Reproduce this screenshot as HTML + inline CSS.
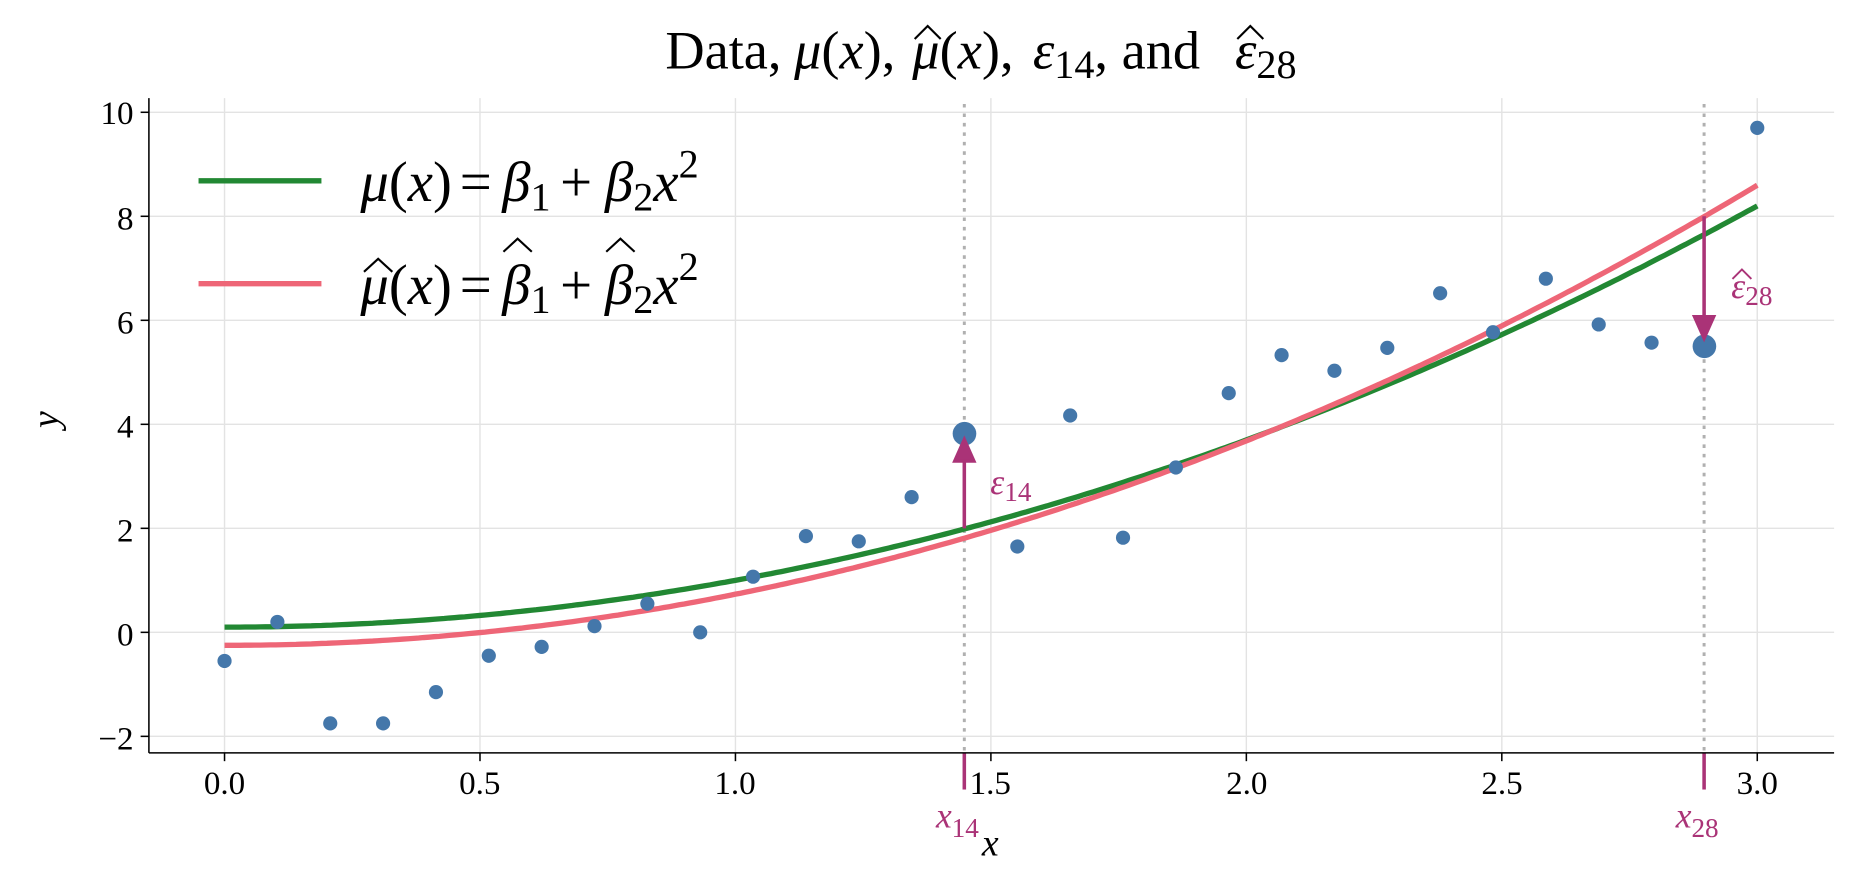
<!DOCTYPE html>
<html><head><meta charset="utf-8"><style>
body{margin:0;background:#fff;overflow:hidden}
svg{display:block;font-family:"Liberation Serif",serif}
</style></head><body>
<svg id="s" width="1853" height="890" viewBox="0 0 1568 753" preserveAspectRatio="none" xmlns="http://www.w3.org/2000/svg">
<g id="grid" stroke="#e3e3e3" stroke-width="1.2"></g>
<line x1="816" y1="88" x2="816" y2="637" stroke="#b0b0b0" stroke-width="2.5" stroke-dasharray="3,5"/>
<line x1="1442" y1="88" x2="1442" y2="637" stroke="#b0b0b0" stroke-width="2.5" stroke-dasharray="3,5"/>
<path id="g" fill="none" stroke="#228833" stroke-width="4.5"/>
<path id="r" fill="none" stroke="#ee6677" stroke-width="4.5"/>
<g id="pts" fill="#4477aa"></g>
<g stroke="#aa3377" stroke-width="3" fill="#aa3377">
<line x1="816" y1="447" x2="816" y2="385"/>
<polygon points="808,390 824,390 816,372"/>
<line x1="1442" y1="183" x2="1442" y2="272"/>
<polygon points="1434,268 1450,268 1442,286"/>
<line x1="816" y1="637" x2="816" y2="668"/>
<line x1="1442" y1="637" x2="1442" y2="668"/>
</g>
<g fill="#aa3377" font-style="italic" font-size="30">
<text x="838" y="418">ε<tspan font-style="normal" font-size="23" dy="6">14</tspan></text>
<text x="1465" y="252">ε<tspan font-style="normal" font-size="23" dy="6">28</tspan></text>
<text x="792" y="700">x<tspan font-style="normal" font-size="23" dy="8">14</tspan></text>
<text x="1418" y="700">x<tspan font-style="normal" font-size="23" dy="8">28</tspan></text>
</g>
<path d="M1466,236 L1474,228 L1482,236" fill="none" stroke="#aa3377" stroke-width="1.6"/>
<line x1="126" y1="83" x2="126" y2="637" stroke="#000" stroke-width="1.3"/>
<line x1="126" y1="637" x2="1552" y2="637" stroke="#000" stroke-width="1.3"/>
<g id="ticks" stroke="#000" stroke-width="1.3"></g>
<g font-size="28" text-anchor="end">
<text x="113" y="105">10</text><text x="113" y="194">8</text><text x="113" y="282">6</text>
<text x="113" y="370">4</text><text x="113" y="458">2</text><text x="113" y="546">0</text><text x="113" y="634">−2</text>
</g>
<g font-size="28" text-anchor="middle">
<text x="190" y="672">0.0</text><text x="406" y="672">0.5</text><text x="622" y="672">1.0</text>
<text x="838" y="672">1.5</text><text x="1055" y="672">2.0</text><text x="1271" y="672">2.5</text><text x="1487" y="672">3.0</text>
</g>
<text x="838" y="724" font-size="32" font-style="italic" text-anchor="middle">x</text>
<text x="42" y="362" font-size="32" font-style="italic" text-anchor="middle" transform="rotate(-90 42 355)">y</text>
<text x="563" y="58" font-size="46">Data, <tspan x="672" font-style="italic">μ</tspan>(<tspan font-style="italic">x</tspan>), <tspan x="772" font-style="italic">μ</tspan>(<tspan font-style="italic">x</tspan>), <tspan x="874" font-style="italic">ε</tspan><tspan font-size="34" dy="8">14</tspan><tspan dy="-8">, and </tspan><tspan x="1045" font-style="italic">ε</tspan><tspan font-size="34" dy="8">28</tspan></text>
<g fill="none" stroke="#000" stroke-width="1.8">
<path d="M774,33 L785,22 L796,33"/>
<path d="M1047,33 L1058,22 L1069,33"/>
</g>
<line x1="168" y1="153" x2="272" y2="153" stroke="#228833" stroke-width="4.5"/>
<line x1="168" y1="240" x2="272" y2="240" stroke="#ee6677" stroke-width="4.5"/>
<g font-size="48">
<text x="305" y="170"><tspan font-style="italic">μ</tspan>(<tspan font-style="italic">x</tspan>)<tspan x="389">=</tspan><tspan x="425" font-style="italic">β</tspan><tspan font-size="34" dy="8">1</tspan><tspan x="474" dy="-8">+</tspan><tspan x="512" font-style="italic">β</tspan><tspan font-size="34" dy="8">2</tspan><tspan font-style="italic" dy="-8">x</tspan><tspan font-size="34" dy="-20">2</tspan></text>
<text x="305" y="257"><tspan font-style="italic">μ</tspan>(<tspan font-style="italic">x</tspan>)<tspan x="389">=</tspan><tspan x="425" font-style="italic">β</tspan><tspan font-size="34" dy="8">1</tspan><tspan x="474" dy="-8">+</tspan><tspan x="512" font-style="italic">β</tspan><tspan font-size="34" dy="8">2</tspan><tspan font-style="italic" dy="-8">x</tspan><tspan font-size="34" dy="-20">2</tspan></text>
</g>
<g fill="none" stroke="#000" stroke-width="1.8">
<path d="M308,230 L320,219 L332,230"/>
<path d="M426,213 L438,202 L450,213"/>
<path d="M513,213 L525,202 L537,213"/>
</g>
</svg>
<script>
var X=function(x){return 190+x*432.33},Y=function(y){return 535-y*44};
var ns="http://www.w3.org/2000/svg";
var grid=document.getElementById('grid'),ticks=document.getElementById('ticks');
function ln(p,a,b,c,d){var l=document.createElementNS(ns,'line');l.setAttribute('x1',a);l.setAttribute('y1',b);l.setAttribute('x2',c);l.setAttribute('y2',d);p.appendChild(l);}
for(var i=0;i<=6;i++){var x=X(i*0.5);ln(grid,x,83,x,637);ln(ticks,x,637,x,644);}
for(var v=-2;v<=10;v+=2){var y=Y(v);ln(grid,126,y,1552,y);ln(ticks,119,y,126,y);}
var g="",r="";
for(var i=0;i<=300;i++){var x=i*0.01;g+=(i?"L":"M")+X(x).toFixed(1)+","+Y(0.1+0.9*x*x).toFixed(1);r+=(i?"L":"M")+X(x).toFixed(1)+","+Y(-0.25+0.983*x*x).toFixed(1);}
document.getElementById('g').setAttribute('d',g);document.getElementById('r').setAttribute('d',r);
var d=[-0.55,0.2,-1.75,-1.75,-1.15,-0.45,-0.28,0.12,0.55,0.0,1.07,1.85,1.75,2.6,3.82,1.65,4.17,1.82,3.17,4.6,5.33,5.03,5.47,6.52,5.77,6.8,5.92,5.57,5.5,9.7];
var pts=document.getElementById('pts');
d.forEach(function(v,i){var c=document.createElementNS(ns,'circle');c.setAttribute('cx',X(3*i/29));c.setAttribute('cy',Y(v));c.setAttribute('r',(i==14||i==28)?10:6);pts.appendChild(c);});
</script>
</body></html>
